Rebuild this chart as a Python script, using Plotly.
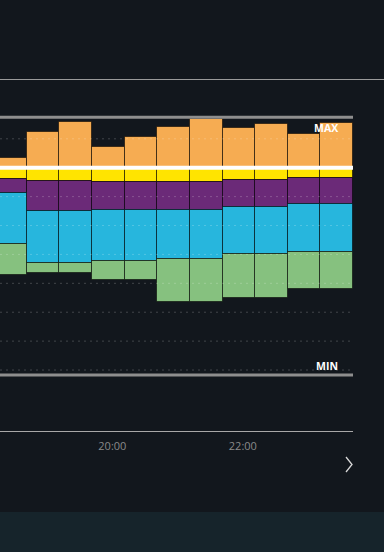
import plotly.graph_objects as go

times = ["2024-01-01 18:30", "2024-01-01 19:00", "2024-01-01 19:30", "2024-01-01 20:00",
         "2024-01-01 20:30", "2024-01-01 21:00", "2024-01-01 21:30", "2024-01-01 22:00",
         "2024-01-01 22:30", "2024-01-01 23:00", "2024-01-01 23:30"]
orange = [0.35, 1.24, 1.58, 0.73, 1.05, 1.42, 1.70, 1.36, 1.50, 1.17, 1.56]
yellow = [-0.39, -0.47, -0.47, -0.50, -0.50, -0.51, -0.51, -0.41, -0.41, -0.35, -0.35]
purple = [-0.47, -1.03, -1.03, -0.97, -0.97, -0.96, -0.96, -0.94, -0.94, -0.92, -0.92]
blue = [-1.79, -1.81, -1.81, -1.75, -1.75, -1.69, -1.69, -1.65, -1.65, -1.64, -1.64]
green = [-1.07, -0.35, -0.35, -0.66, -0.66, -1.49, -1.49, -1.52, -1.52, -1.30, -1.30]
max_level = 1.75
min_level = -7.17
grid_levels = [1, -1, -2, -3, -4, -5, -6, -7]
tick_vals = ["2024-01-01 20:00", "2024-01-01 22:00"]
tick_text = ["20:00", "22:00"]

BG = "#12171d"
series = [
    (orange, "#f6ac52"),
    (yellow, "#ffe400"),
    (purple, "#6b2a78"),
    (blue, "#27b6dd"),
    (green, "#86c17f"),
]

fig = go.Figure()
for vals, col in series:
    fig.add_trace(go.Bar(
        x=times, y=vals, marker_color=col,
        marker_line=dict(color="rgba(0,0,0,0.55)", width=1),
        width=30 * 60 * 1000, showlegend=False, hoverinfo="skip",
    ))

W, H = 384, 552
L, R, T, B = 0, 31, 100, 121
pw = W - L - R
ph = H - T - B

shapes = [
    # header separator line across full width
    dict(type="line", xref="paper", yref="paper", x0=0, x1=W / pw,
         y0=(H - B - 79.5) / ph, y1=(H - B - 79.5) / ph,
         line=dict(color="#9a9a9a", width=1)),
    # bottom band
    dict(type="rect", xref="paper", yref="paper", x0=-0.01, x1=W / pw + 0.01,
         y0=(H - B - 553) / ph, y1=(H - B - 512) / ph,
         fillcolor="#16242b", line=dict(width=0), layer="below"),
]
# dotted grid drawn over the bars
for g in grid_levels:
    shapes.append(dict(type="line", xref="paper", yref="y", x0=0, x1=1, y0=g, y1=g,
                       line=dict(color="rgba(255,255,255,0.2)", width=1, dash="2px,4px"),
                       layer="above"))
shapes += [
    # MAX and MIN lines
    dict(type="line", xref="paper", yref="y", x0=0, x1=1, y0=max_level, y1=max_level,
         line=dict(color="#8e8e8e", width=3)),
    dict(type="line", xref="paper", yref="y", x0=0, x1=1, y0=min_level, y1=min_level,
         line=dict(color="#8e8e8e", width=3)),
    # zero line (white)
    dict(type="line", xref="paper", yref="y", x0=0, x1=1, y0=0, y1=0,
         line=dict(color="#ffffff", width=4)),
    # chevron
    dict(type="path", xref="paper", yref="paper",
         path="M {:.4f},{:.4f} L {:.4f},{:.4f} L {:.4f},{:.4f}".format(
             346 / pw, (H - B - 457) / ph, 352 / pw, (H - B - 464.5) / ph,
             346 / pw, (H - B - 472) / ph),
         line=dict(color="#d8d8d8", width=1.3)),
]

annotations = [
    dict(text="<b>MAX</b>", xref="paper", yref="y", x=340 / pw, y=max_level,
         xanchor="right", yanchor="middle", yshift=-11, showarrow=False,
         font=dict(color="#ffffff", size=10.5, family="Open Sans")),
    dict(text="<b>MIN</b>", xref="paper", yref="y", x=340 / pw, y=min_level,
         xanchor="right", yanchor="middle", yshift=9, showarrow=False,
         font=dict(color="#ffffff", size=10.5, family="Open Sans")),
]

fig.update_layout(
    width=W, height=H,
    margin=dict(l=L, r=R, t=T, b=B, pad=0),
    paper_bgcolor=BG, plot_bgcolor=BG,
    barmode="relative", bargap=0,
    shapes=shapes, annotations=annotations,
    xaxis=dict(
        type="date",
        range=["2024-01-01 18:20:20", "2024-01-01 23:45"],
        tickvals=tick_vals, ticktext=tick_text,
        showgrid=False, zeroline=False,
        showline=True, linecolor="#a8a8a8", linewidth=1,
        ticks="", ticklabelshift=4, ticklabelstandoff=5,
        tickfont=dict(color="#8a8a8a", size=11, family="Open Sans"),
        fixedrange=True,
    ),
    yaxis=dict(
        range=[-9.11, 2.343],
        showgrid=False, zeroline=False, showticklabels=False, showline=False, ticks="",
        fixedrange=True,
    ),
)

fig.write_html(
    "out.html",
    config={"displayModeBar": False},
    post_script="document.body.style.margin='0';document.body.style.overflow='hidden';document.body.style.background='%s';" % BG,
)
